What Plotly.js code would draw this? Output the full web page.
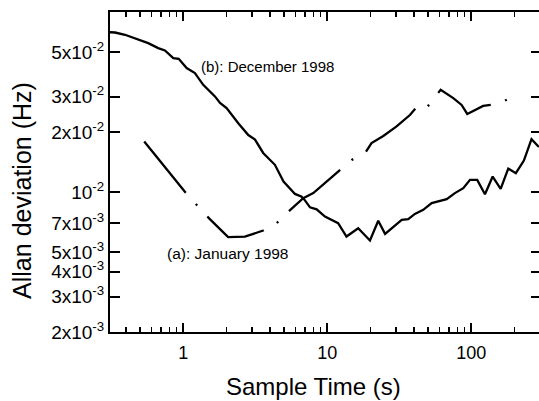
<!DOCTYPE html>
<html>
<head>
<meta charset="utf-8">
<script src="https://cdn.plot.ly/plotly-3.0.1.min.js"></script>
<style>
html,body{margin:0;padding:0;overflow:hidden;background:#fff;}
#chart{width:541px;height:401px;}
</style>
</head>
<body>
<div id="chart"></div>
<script>
// (b): December 1998 — solid line
var decX = [0.31, 0.336, 0.394, 0.488, 0.571, 0.67, 0.746, 0.853, 0.93, 1.056, 1.205, 1.376, 1.66, 1.8, 2.0, 2.41, 2.83, 3.15, 3.59, 4.33, 4.97, 5.97, 6.64, 7.0, 7.59, 8.44, 9.64, 11.9, 13.6, 16.4, 19.8, 22.6, 25.2, 32.9, 36.5, 40.6, 46.4, 53.1, 67.5, 77, 88, 98, 110, 124.5, 140.8, 160, 180.6, 204, 232, 262, 295];
var decY = [0.063, 0.0628, 0.0612, 0.0577, 0.0556, 0.0525, 0.0511, 0.0468, 0.0464, 0.0417, 0.0394, 0.0344, 0.0301, 0.0279, 0.0263, 0.0221, 0.0193, 0.0183, 0.0157, 0.0137, 0.0113, 0.0098, 0.0095, 0.0091, 0.0084, 0.0082, 0.00755, 0.0070, 0.0060, 0.0066, 0.00573, 0.00719, 0.00619, 0.00727, 0.00733, 0.00779, 0.00816, 0.00881, 0.00923, 0.00989, 0.01047, 0.01152, 0.01152, 0.00977, 0.01197, 0.01039, 0.01312, 0.01245, 0.01439, 0.0184, 0.0168];

// (a): January 1998 — dash-dot line
var janX = [0.536, 1.04, 1.27, 1.53, 2.05, 2.68, 3.59, 4.4, 5.22, 6.81, 8.0, 10.2, 11.9, 14.8, 18.3, 20.3, 24.5, 30.3, 37.5, 41.8, 48.2, 56, 61.3, 75, 85.7, 93.8, 121, 151.6, 212];
var janY = [0.0179, 0.00994, 0.00847, 0.00733, 0.00596, 0.00599, 0.00643, 0.00694, 0.00785, 0.00933, 0.00989, 0.01152, 0.01268, 0.0145, 0.01567, 0.0176, 0.0191, 0.0213, 0.0243, 0.0266, 0.026, 0.0301, 0.0325, 0.0295, 0.0273, 0.0246, 0.027, 0.0276, 0.0307];

var yTickVals = [0.002, 0.003, 0.004, 0.005, 0.007, 0.01, 0.02, 0.03, 0.05];
var yTickText = ['2x10<sup>-3</sup>', '3x10<sup>-3</sup>', '4x10<sup>-3</sup>', '5x10<sup>-3</sup>', '7x10<sup>-3</sup>', '10<sup>-2</sup>', '2x10<sup>-2</sup>', '3x10<sup>-2</sup>', '5x10<sup>-2</sup>'];
var xTickVals = [1, 10, 100];
var xTickText = ['1', '10', '100'];

var FONT = 'Liberation Sans, Arial, Helvetica, sans-serif';

var traces = [
  {x: decX, y: decY, type: 'scatter', mode: 'lines', name: '(b): December 1998',
   line: {color: '#000', width: 2.3}},
  {x: janX, y: janY, type: 'scatter', mode: 'lines', name: '(a): January 1998',
   line: {color: '#000', width: 2.3, dash: '66px,15px,2px,15px'}}
];

var layout = {
  width: 541, height: 401,
  margin: {l: 110, r: 0, t: 12, b: 69},
  paper_bgcolor: '#fff', plot_bgcolor: '#fff',
  showlegend: false,
  font: {family: FONT, color: '#000', size: 18},
  xaxis: {
    type: 'log', range: [Math.log10(0.31), Math.log10(305)],
    tickmode: 'array', tickvals: xTickVals, ticktext: xTickText,
    ticks: 'inside', ticklen: 9, tickwidth: 2, tickcolor: '#000',
    ticklabelstandoff: 3,
    minor: {ticks: 'inside', ticklen: 5, tickwidth: 1.5, tickcolor: '#000', dtick: 'D1', showgrid: false},
    showline: true, linewidth: 2, linecolor: '#000', mirror: 'ticks',
    showgrid: false, zeroline: false,
    tickfont: {size: 18, family: FONT}
  },
  yaxis: {
    type: 'log', range: [Math.log10(0.002), -1.0995],
    tickmode: 'array', tickvals: yTickVals, ticktext: yTickText,
    ticks: 'inside', ticklen: 10, tickwidth: 2, tickcolor: '#000',
    showline: true, linewidth: 2, linecolor: '#000', mirror: 'ticks',
    showgrid: false, zeroline: false,
    tickfont: {size: 19, family: FONT}
  },
  annotations: [
    {text: '(b): December 1998', xref: 'paper', yref: 'paper', x: 0.2072, y: 0.829,
     xanchor: 'left', yanchor: 'middle', showarrow: false, font: {size: 15, family: FONT}},
    {text: '(a): January 1998', xref: 'paper', yref: 'paper', x: 0.1276, y: 0.246,
     xanchor: 'left', yanchor: 'middle', showarrow: false, font: {size: 15.5, family: FONT}},
    {text: 'Allan deviation (Hz)', xref: 'paper', yref: 'paper', x: -0.2042, y: 0.444,
     xanchor: 'center', yanchor: 'middle', textangle: -90, showarrow: false, font: {size: 25, family: FONT}},
    {text: 'Sample Time (s)', xref: 'paper', yref: 'paper', x: 0.4733, y: -0.169,
     xanchor: 'center', yanchor: 'middle', showarrow: false, font: {size: 24, family: FONT}}
  ]
};

Plotly.newPlot('chart', traces, layout, {staticPlot: true, displayModeBar: false});
</script>
</body>
</html>
